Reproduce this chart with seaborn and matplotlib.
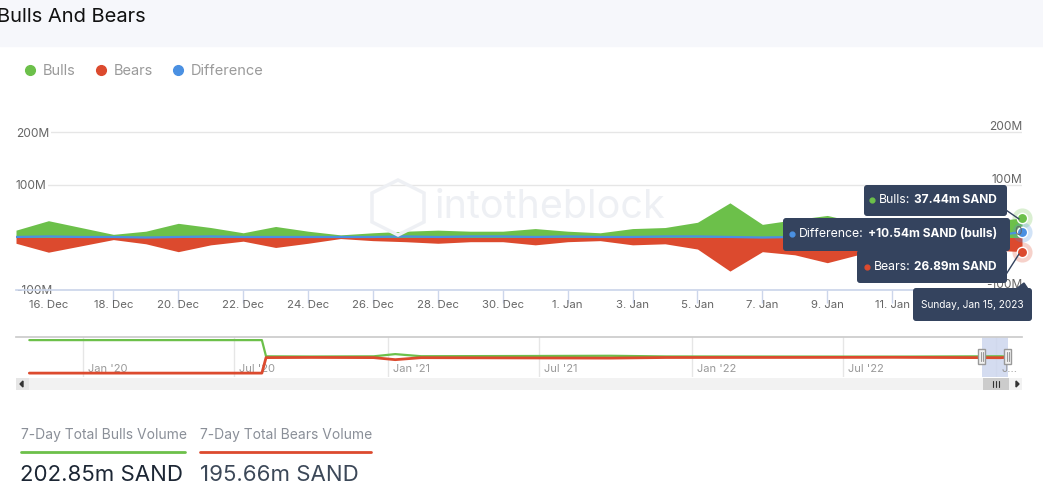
import numpy as np
import pandas as pd
import matplotlib
matplotlib.use('Agg')
import matplotlib.pyplot as plt
import matplotlib.dates as mdates
import matplotlib.transforms as mtransforms
from matplotlib.patches import Rectangle, FancyBboxPatch, Polygon
from matplotlib.lines import Line2D
import seaborn as sns

# Daily values, millions of SAND
days = pd.date_range('2022-12-15', '2023-01-15', freq='D')
bulls_m = [14, 32, 19, 6, 12, 27, 19, 9, 21, 12, 5, 9, 12, 14, 12, 12,
           17, 12, 9, 17, 19, 29, 66, 25, 34, 42, 28, 20, 22, 23.4, 30, 37.44]
bears_m = [11, 28, 16, 4, 12, 27, 14, 7, 19, 11, 2, 6, 8, 11, 8, 8,
           14, 8, 6, 14, 12, 22, 64, 27, 33, 48, 32, 22, 21, 22, 23.77, 26.89]
diff_m = [1, 2, 1, 1, 0, 1, 2, 1, 1, 1, 1, 1, 2, 1, 2, 2,
          1, 2, 1, 1, 2, 2, 1, 0, 1, 0, 1, 1, 1, 1, 2, 10.54]

# Navigator (full history), millions
nav_dates = pd.to_datetime(['2019-10-29', '2020-08-03', '2020-08-08', '2020-10-01',
                            '2020-12-15', '2021-01-10', '2021-02-10', '2021-06-20',
                            '2021-09-25', '2021-12-01', '2022-05-01', '2022-09-01',
                            '2023-01-06', '2023-01-15'])
nav_bulls_m = [1520, 1520, 60, 45, 60, 260, 70, 90, 110, 50, 40, 35, 66, 37]
nav_bears_m = [1450, 1450, 55, 40, 55, 240, 60, 85, 100, 45, 40, 30, 64, 27]

x_ticks = pd.date_range('2022-12-16', '2023-01-13', freq='2D')
y_ticks = [-100, 0, 100, 200]
nav_ticks = pd.to_datetime(['2020-01-01', '2020-07-01', '2021-01-01', '2021-07-01',
                            '2022-01-01', '2022-07-01', '2023-01-01'])
nav_labels = ["Jan '20", "Jul '20", "Jan '21", "Jul '21", "Jan '22", "Jul '22", "J..."]

total_bulls = '202.85m SAND'
total_bears = '195.66m SAND'

GREEN = '#6cc04a'
RED = '#dc4a2e'
BLUE = '#4a90e2'
NAVY = '#34435e'

bulls = np.array(bulls_m)
bears = np.array(bears_m)
diff = np.array(diff_m)

sns.set_theme(style='white')
plt.rcParams['font.family'] = ['Inter', 'DejaVu Sans']

W, H = 1043, 490
fig = plt.figure(figsize=(W / 100, H / 100), dpi=100)


def px_rect(x0, y0, x1, y1):
    return [x0 / W, 1 - y1 / H, (x1 - x0) / W, (y1 - y0) / H]


# header band
fig.patches.append(Rectangle((0, 1 - 46 / H), 1, 46 / H, transform=fig.transFigure,
                             color='#f6f7fb', zorder=0))
fig.text(-3 / W, 1 - 17 / H, 'Bulls And Bears', fontsize=14.5, color='#111111',
         ha='left', va='center')

# legend
handles = [Line2D([], [], marker='o', ls='none', color=c, markersize=7)
           for c in (GREEN, RED, BLUE)]
fig.legend(handles, ['Bulls', 'Bears', 'Difference'], loc='center left',
           bbox_to_anchor=(24 / W, 1 - 71 / H), ncol=3, frameon=False,
           handlelength=0.8, handletextpad=0.5, columnspacing=1.3,
           fontsize=10.5, labelcolor='#9a9a9a', borderpad=0, borderaxespad=0)

# main chart
ax = fig.add_axes(px_rect(16, 120, 1022, 290))
ax.fill_between(days, 0, bulls, color=GREEN, lw=0, zorder=2)
ax.fill_between(days, 0, -bears, color=RED, lw=0, zorder=2)
sns.lineplot(x=days, y=diff, ax=ax, color=BLUE, lw=1.6, zorder=3)
ax.set_xlim(days[0], days[-1])
ax.set_ylim(-100, 223.8)
ax.set_yticks(y_ticks)
ax.set_yticklabels([f'{v}M' if v else '0' for v in y_ticks])
ax.yaxis.grid(True, color='#e6e6e6', lw=1)
ax.set_axisbelow(True)
for s in ('top', 'left', 'right'):
    ax.spines[s].set_visible(False)
ax.spines['bottom'].set_color('#ccd6eb')
ax.set_xticks(x_ticks)
ax.set_xticklabels([f"{d.day}. {d.strftime('%b')}" for d in x_ticks])
ax.tick_params(axis='x', length=9, width=1, color='#ccd6eb', labelsize=8.2,
               labelcolor='#666666', pad=-1.5, bottom=True)
ax.tick_params(axis='y', length=0, pad=0, labelsize=8.6, labelcolor='#666666')
for lab in ax.get_yticklabels():
    lab.set_ha('left')
    lab.set_bbox(dict(facecolor='white', edgecolor='none', pad=1))
ax.set_xlabel('')
ax.set_ylabel('')

# end point markers
for val, col in ((bulls[-1], GREEN), (diff[-1], BLUE), (-bears[-1], RED)):
    ax.scatter([days[-1]], [val], s=210, color=col, alpha=0.25, lw=0, zorder=5, clip_on=False)
    ax.scatter([days[-1]], [val], s=55, color=col, edgecolor='white', lw=1, zorder=6, clip_on=False)

ax2 = ax.twinx()
ax2.set_ylim(-113.3, 210.5)
ax2.set_yticks(y_ticks)
ax2.set_yticklabels([f'{v}M' if v else '0' for v in y_ticks])
ax2.tick_params(axis='y', length=0, pad=0, labelsize=8.6, labelcolor='#666666')
for lab in ax2.get_yticklabels():
    lab.set_ha('right')
for s in ax2.spines.values():
    s.set_visible(False)
ax2.grid(False)

# navigator
nav = fig.add_axes(px_rect(16, 337, 1022, 377))
nav.set_xlim(pd.Timestamp('2019-10-13'), pd.Timestamp('2023-02-01'))
nav.set_ylim(-1800, 1800)
for t in nav_ticks:
    nav.axvline(t, color='#e6e6e6', lw=1, zorder=0)
nav.axvspan(days[0], days[-1], color='#cdd6ee', alpha=0.85, lw=0, zorder=1)
sns.lineplot(x=nav_dates, y=np.array(nav_bulls_m), ax=nav, color=GREEN, lw=1.6, zorder=3)
sns.lineplot(x=nav_dates, y=-np.array(nav_bears_m), ax=nav, color=RED, lw=2, zorder=4)
nav.set_xticks([])
nav.set_yticks([])
nav.set_xlabel('')
nav.set_ylabel('')
for s in ('left', 'right', 'bottom'):
    nav.spines[s].set_visible(False)
nav.spines['top'].set_color('#cccccc')
trans = mtransforms.offset_copy(mtransforms.blended_transform_factory(nav.transData, nav.transAxes),
                                fig=fig, x=5, y=0, units='dots')
for t, lab in zip(nav_ticks, nav_labels):
    nav.text(t, 0.2, lab, transform=trans, ha='left', va='center', fontsize=8,
             color='#999999', zorder=2)

# overlay in pixel coordinates
ov = fig.add_axes([0, 0, 1, 1], zorder=10)
ov.set_xlim(0, W)
ov.set_ylim(H, 0)
ov.axis('off')
ov.patch.set_alpha(0)

# watermark
ov.text(435, 207, 'intotheblock', fontsize=28.5, color='#eef0f4', ha='left', va='center',
        zorder=0)
hexa = Polygon([(398, 180), (424, 193), (424, 222), (398, 235), (372, 222), (372, 193)],
               closed=True, fill=False, edgecolor='#eef0f4', lw=2.5, zorder=0)
ov.add_patch(hexa)

# navigator handles
fig.canvas.draw()
for d in (days[0], days[-1]):
    px = nav.transData.transform((mdates.date2num(d), 0))[0]
    ov.add_patch(Rectangle((px - 3.5, 349), 7, 15, facecolor='#f2f2f2', edgecolor='#999999', lw=1))
    ov.plot([px - 1, px - 1], [352, 361], color='#999999', lw=0.8)
    ov.plot([px + 1, px + 1], [352, 361], color='#999999', lw=0.8)

# scrollbar
ov.add_patch(Rectangle((16, 378), 1006, 12, facecolor='#f2f2f2', edgecolor='none'))
ov.add_patch(Rectangle((16, 378), 13, 12, facecolor='#e6e6e6', edgecolor='none'))
ov.add_patch(Polygon([(20, 384), (23, 381), (23, 387)], color='#333333'))
ov.add_patch(Rectangle((983, 378), 26, 12, facecolor='#cccccc', edgecolor='none'))
for xx in (993, 996, 999):
    ov.plot([xx, xx], [381, 387], color='#333333', lw=0.8)
ov.add_patch(Polygon([(1019, 384), (1016, 381), (1016, 387)], color='#333333'))

# tooltips
def tip_box(x0, y0, x1, y1):
    ov.add_patch(FancyBboxPatch((x0, y0), x1 - x0, y1 - y0,
                                boxstyle='round,pad=0,rounding_size=3',
                                facecolor=NAVY, edgecolor='none', zorder=5))


tip_box(864, 185, 1007, 216)
tip_box(857, 250, 1007, 283)
tip_box(783, 218, 1010, 251)
ov.plot([1003, 1019], [208, 219], color=NAVY, lw=1, zorder=5)
ov.plot([1005, 1019], [276, 254], color=NAVY, lw=1, zorder=5)


def tip_line(y, dot_col, label, value):
    tv = ov.text(997, y, value, ha='right', va='center', fontsize=8.6, fontweight='bold',
                 color='white', zorder=6)
    fig.canvas.draw()
    x0 = tv.get_window_extent().x0
    tl = ov.text(x0 - 4, y, label, ha='right', va='center', fontsize=8.8, color='white', zorder=6)
    fig.canvas.draw()
    ov.scatter([tl.get_window_extent().x0 - 7], [y], s=12, color=dot_col, zorder=6)


tip_line(200, GREEN, 'Bulls:', f'{bulls[-1]:.2f}m SAND')
tip_line(234, BLUE, 'Difference:', f'+{diff[-1]:.2f}m SAND (bulls)')
tip_line(267, RED, 'Bears:', f'{bears[-1]:.2f}m SAND')

ov.add_patch(Polygon([(1016, 289), (1024, 283), (1028, 289)], color=NAVY, zorder=5))
tip_box(913, 288, 1032, 321)
ov.text(972, 305, days[-1].strftime('%A, %b %d, %Y').replace(' 0', ' '), ha='center',
        va='center', fontsize=7.3, color='white', zorder=6)

# 7-day totals
ov.text(21, 435, '7-Day Total Bulls Volume', fontsize=10, color='#8a8f98', ha='left', va='center')
ov.plot([21, 185], [452, 452], color=GREEN, lw=2)
ov.text(20, 475, total_bulls, fontsize=16, color='#1c2634', ha='left', va='center')
ov.text(200, 435, '7-Day Total Bears Volume', fontsize=10, color='#8a8f98', ha='left', va='center')
ov.plot([200, 371], [452, 452], color=RED, lw=2)
ov.text(200, 475, total_bears, fontsize=16, color='#3c4858', ha='left', va='center')

fig.savefig('out.png', dpi=100)
